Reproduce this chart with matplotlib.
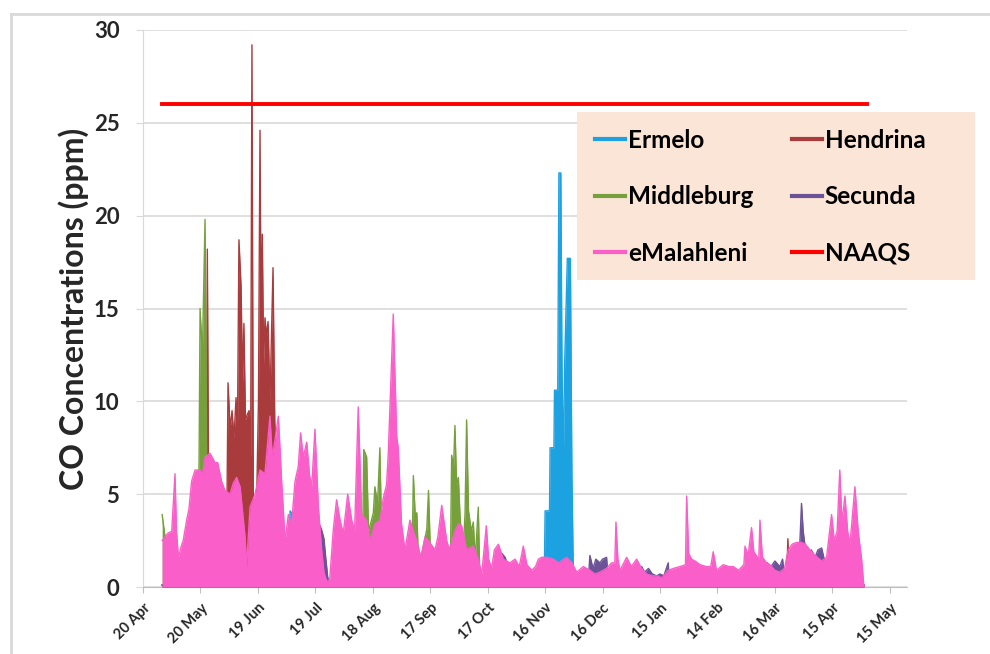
import numpy as np
import pandas as pd
import matplotlib
matplotlib.use('Agg')
import matplotlib.pyplot as plt
import matplotlib.dates as mdates
from matplotlib.lines import Line2D
from matplotlib.patches import Rectangle

plt.rcParams['font.family'] = ['Lato', 'DejaVu Sans']

# days counted from 20 Apr 2012, values in ppm
ermelo_day = [10, 76, 76.8, 77.6, 78.4, 209.5, 210, 212.3, 212.6, 214.6, 214.9, 216.6, 217.2, 218.2,
              218.8, 219.5, 220.2, 221.6, 222.2, 223.2, 224, 224.7, 225.5, 376.5]
ermelo_ppm = [0.1, 0.1, 4.1, 4.0, 0.1, 0.1, 4.1, 4.1, 7.5, 7.5, 10.6, 10.6, 22.3, 22.3,
              12.0, 6.5, 12.0, 17.7, 17.7, 17.7, 6.0, 1.0, 0.1, 0.1]

hendrina_day = [10, 32.8, 33.6, 34.5, 43.5, 44.4, 45.5, 46.5, 47.5, 48.6, 49.3, 50.1, 51.2, 52.0, 52.7,
                53.5, 54.5, 55.4, 56.2, 56.9, 57.6, 58.5, 59.5, 60.3, 61.1, 61.7, 62.3, 63.0, 63.7,
                64.5, 65.3, 66.3, 67.9, 68.8, 69.5, 70.5, 336, 336.8, 337.6, 376.5]
hendrina_ppm = [0.1, 0.1, 18.2, 0.1, 0.3, 11.0, 8.5, 9.5, 8.0, 10.2, 8.0, 18.7, 16.2, 11.0, 14.2,
                9.0, 9.3, 9.5, 7.0, 29.2, 5.0, 1.7, 5.5, 10.0, 24.6, 14.0, 19.0, 12.0, 14.5,
                13.5, 14.3, 10.0, 17.2, 9.0, 7.0, 0.1, 0.1, 2.6, 0.1, 0.1]

middleburg_day = [10, 11.5, 12.5, 28.5, 29.3, 29.8, 31, 32.4, 33.2, 34, 114.5, 115.3, 116.8, 117.8,
                  120.3, 121.1, 122.5, 123.7, 124.6, 125.5, 140.3, 141.2, 142.2, 143, 144, 147.6,
                  148.2, 149.1, 150, 151, 160.5, 161.2, 162.2, 162.9, 163.8, 164.7, 165.5, 167,
                  168.2, 169, 170, 171.5, 172.5, 173.5, 175.1, 176, 376.5]
middleburg_ppm = [3.9, 2.7, 0.1, 0.3, 7.0, 15.0, 12.5, 19.8, 7.5, 0.1, 0.3, 7.4, 7.0, 3.0,
                  4.0, 5.4, 4.5, 7.5, 3.0, 0.1, 0.3, 6.0, 3.8, 4.0, 1.0, 2.8,
                  3.1, 5.2, 2.2, 0.1, 1.0, 7.1, 6.5, 8.7, 5.5, 5.9, 4.0, 1.5,
                  4.0, 9.0, 4.1, 3.0, 3.5, 1.5, 4.3, 0.1, 0.1]

secunda_day = [10, 53, 54, 55, 91.5, 92.5, 93.5, 94.5, 95.5, 96.5, 98, 136, 136.8, 137.6, 186, 187.5,
               189.1, 191, 192, 232.5, 233.4, 235, 236.5, 238.6, 240, 242.1, 243, 259, 260.4, 262,
               264, 266, 268.2, 270, 272, 274.3, 275, 325, 326, 328, 330, 332.6, 334, 335.5, 342.5,
               343.9, 344.8, 346, 347, 349, 351, 352.5, 354.4, 356, 357, 368.5, 369.2, 370, 376.5]
secunda_ppm = [0.1, 0.1, 1.1, 0.1, 1.5, 3.3, 3.0, 2.6, 1.5, 0.5, 0.1, 0.3, 2.0, 0.1, 0.3, 1.8,
               1.6, 1.0, 0.1, 0.3, 1.7, 1.0, 1.5, 1.3, 1.5, 1.6, 0.3, 0.3, 1.1, 0.8,
               1.0, 0.7, 0.6, 0.7, 0.6, 1.3, 0.1, 0.3, 1.3, 1.1, 1.4, 1.1, 1.5, 0.1, 1.0,
               4.5, 3.0, 2.0, 1.5, 2.0, 1.6, 2.0, 2.1, 1.4, 0.1, 0.3, 2.0, 0.1, 0.1]

emalahleni_day = [10, 11.5, 13, 15, 16.7, 17.5, 18.5, 20, 21, 22.8, 24, 25.4, 27.2, 29.8, 31, 32.4,
                  35, 37.6, 39, 41, 42.8, 45.4, 47.2, 48.9, 50.7, 53.3, 54.1, 55.9, 58.5, 61.1,
                  63.7, 66.3, 67.5, 68.9, 70.7, 72.4, 74.2, 75.9, 77.6, 79.4, 81.1, 82.3, 83.7,
                  85.5, 87, 88.1, 89.8, 91.6, 93.3, 94.5, 95.9, 97.5, 99.4, 101.1, 102.9, 104.6,
                  106.9, 109, 110.5, 112.4, 114.2, 116.8, 118.5, 121.1, 123.8, 125.5, 127.2,
                  128.1, 130.7, 132.5, 133.3, 135, 136.8, 139.4, 141.2, 142.9, 145.2, 147.3, 149,
                  152.5, 154, 156, 158.6, 160, 162.9, 164.7, 166.4, 169, 172.5, 175.1, 176.9,
                  179.3, 180.5, 182.1, 183.5, 185.6, 188.2, 191.6, 194.3, 196.5, 198.6, 200.5,
                  203, 205, 206.5, 208.2, 211, 214.3, 217, 221.2, 224, 226.5, 230, 233.4, 236,
                  238.6, 242.1, 244.7, 246.4, 247, 248, 249.1, 252.6, 255, 257.8, 260.4, 263, 266,
                  268.2, 271, 274.3, 277, 280.4, 283.3, 283.9, 285, 286.5, 288.3, 291, 294.3,
                  296.5, 297.8, 299.5, 303, 306, 308.3, 311, 313.8, 314.4, 316, 317.8, 319, 321.6,
                  322.2, 323.5, 325.7, 327.4, 330, 332.6, 335, 337, 339, 341.3, 343.9, 346, 348.3,
                  351, 354.4, 357, 359.6, 361, 362.5, 363.9, 365, 366.6, 368, 369.2, 371.8, 373.6,
                  375.3, 376.5]
emalahleni_ppm = [2.5, 2.7, 2.9, 3.0, 6.1, 3.0, 1.6, 2.2, 2.5, 3.6, 4.2, 5.7, 6.3, 6.3, 6.0, 7.0,
                  7.2, 6.7, 6.7, 5.7, 5.2, 5.0, 5.6, 5.9, 5.4, 2.7, 1.1, 4.3, 5.0, 6.3,
                  6.1, 9.2, 7.0, 7.9, 9.2, 5.7, 2.5, 3.9, 3.4, 5.7, 6.5, 8.3, 7.0,
                  7.8, 6.0, 5.4, 8.5, 4.3, 2.0, 0.8, 0.3, 0.4, 3.1, 4.7, 3.6, 2.9,
                  5.0, 3.6, 3.0, 9.7, 3.9, 3.6, 2.5, 3.4, 3.6, 4.8, 5.5,
                  7.2, 14.7, 8.1, 7.5, 3.4, 2.0, 3.6, 3.0, 2.5, 1.6, 2.7, 2.5,
                  2.0, 2.7, 4.4, 2.5, 2.0, 3.0, 3.4, 3.3, 2.0, 2.2, 1.5, 0.7,
                  3.3, 1.5, 1.0, 2.0, 2.3, 1.5, 1.3, 1.5, 1.1, 2.2, 1.2,
                  0.9, 1.1, 1.5, 1.6, 1.6, 1.5, 1.3, 1.6, 1.3, 0.8, 1.1, 0.9, 0.7,
                  0.8, 1.0, 1.3, 1.3, 3.5, 1.5, 0.9, 1.6, 1.1, 1.5, 1.0, 0.7, 0.6,
                  0.6, 0.5, 0.9, 1.0, 1.1, 1.2, 4.9, 1.8, 1.5, 1.4, 1.2, 1.1,
                  1.1, 1.9, 0.9, 1.2, 1.1, 1.1, 0.9, 1.2, 2.2, 1.7, 3.2, 1.9, 1.5,
                  3.6, 1.6, 1.3, 1.2, 0.9, 0.8, 1.0, 2.0, 2.3, 2.4, 2.4, 2.3, 2.0,
                  1.7, 1.4, 1.6, 3.9, 2.5, 3.0, 6.3, 3.5, 4.9, 3.0, 2.3, 5.4, 2.9,
                  1.5, 0.0]

naaqs_day = [10, 378]
naaqs_ppm = [26, 26]

tick_dates = ['2012-04-20', '2012-05-20', '2012-06-19', '2012-07-19', '2012-08-18', '2012-09-17',
              '2012-10-17', '2012-11-16', '2012-12-16', '2013-01-15', '2013-02-14', '2013-03-16',
              '2013-04-15', '2013-05-15']
tick_labels = ['20 Apr', '20 May', '19 Jun', '19 Jul', '18 Aug', '17 Sep', '17 Oct', '16 Nov',
               '16 Dec', '15 Jan', '14 Feb', '16 Mar', '15 Apr', '15 May']

start = pd.Timestamp('2012-04-20')


def to_num(days):
    return mdates.date2num((start + pd.to_timedelta(days, unit='D')).to_pydatetime())


fig = plt.figure(figsize=(9.9, 6.54), dpi=100)
ax = fig.add_axes([143 / 990, 1 - 587 / 654, (907 - 143) / 990, (587 - 30) / 654])

series = [
    ('Ermelo', ermelo_day, ermelo_ppm, '#1CA2E0'),
    ('Hendrina', hendrina_day, hendrina_ppm, '#A93B3D'),
    ('Middleburg', middleburg_day, middleburg_ppm, '#76A03C'),
    ('Secunda', secunda_day, secunda_ppm, '#6C5296'),
    ('eMalahleni', emalahleni_day, emalahleni_ppm, '#FA5EC8'),
]
colors = {}
for i, (name, d, v, c) in enumerate(series):
    x = to_num(d)
    ax.fill_between(x, 0, v, color=c, lw=0, zorder=2 + i)
    ax.plot(x, v, color=c, lw=1.0, zorder=2 + i)
    colors[name] = c
colors['NAAQS'] = '#FF0000'
ax.plot(to_num(naaqs_day), naaqs_ppm, color=colors['NAAQS'], lw=2.8, zorder=10)

ax.set_ylim(0, 30)
ax.set_yticks(range(0, 31, 5))
ax.set_xlim(mdates.datestr2num('2012-04-20'), mdates.datestr2num('2013-05-24'))
ax.set_xticks([mdates.datestr2num(t) for t in tick_dates])
ax.set_xticklabels(tick_labels, rotation=45, ha='right', rotation_mode='anchor',
                   fontsize=10.5, fontweight='bold', color='#262626')
for lab in ax.get_yticklabels():
    lab.set_fontweight('bold')
ax.tick_params(axis='y', labelsize=16, length=5, color='#D9D9D9', pad=12, labelcolor='#262626')
ax.tick_params(axis='x', length=4, color='#BFBFBF', pad=6)
ax.yaxis.grid(True, color='#D9D9D9', lw=1.2)
ax.set_axisbelow(True)
for s in ['top', 'right']:
    ax.spines[s].set_visible(False)
ax.spines['left'].set_color('#D9D9D9')
ax.spines['bottom'].set_color('#BFBFBF')
ax.set_ylabel('CO Concentrations (ppm)', fontsize=23, fontweight='bold', color='#262626', labelpad=3)

# legend box (peach panel), drawn separately so it can be wider than the entries
fig.patches.append(Rectangle((577 / 990, 1 - 280 / 654), 398 / 990, 168 / 654,
                             transform=fig.transFigure, facecolor='#FBE5D6', edgecolor='none',
                             zorder=5))
order = ['Ermelo', 'Middleburg', 'eMalahleni', 'Hendrina', 'Secunda', 'NAAQS']
leg_handles = [Line2D([], [], color=colors[n], lw=3) for n in order]
leg = fig.legend(leg_handles, order, loc='upper left', bbox_to_anchor=(595 / 990, 1 - 129 / 654),
                 bbox_transform=fig.transFigure, ncol=2, frameon=False,
                 prop={'weight': 'bold', 'size': 17.5}, handlelength=1.25, handletextpad=0.1,
                 columnspacing=1.6, labelspacing=1.37, borderpad=0, borderaxespad=0)
leg.set_zorder(6)

# light outer frame of the chart area
fig.add_artist(Line2D([11 / 990, 11 / 990], [0, 1 - 14 / 654], transform=fig.transFigure,
                      color='#D9D9D9', lw=2))
fig.add_artist(Line2D([11 / 990, 1], [1 - 14 / 654, 1 - 14 / 654], transform=fig.transFigure,
                      color='#D9D9D9', lw=2))

plt.savefig('out.png', dpi=100)
